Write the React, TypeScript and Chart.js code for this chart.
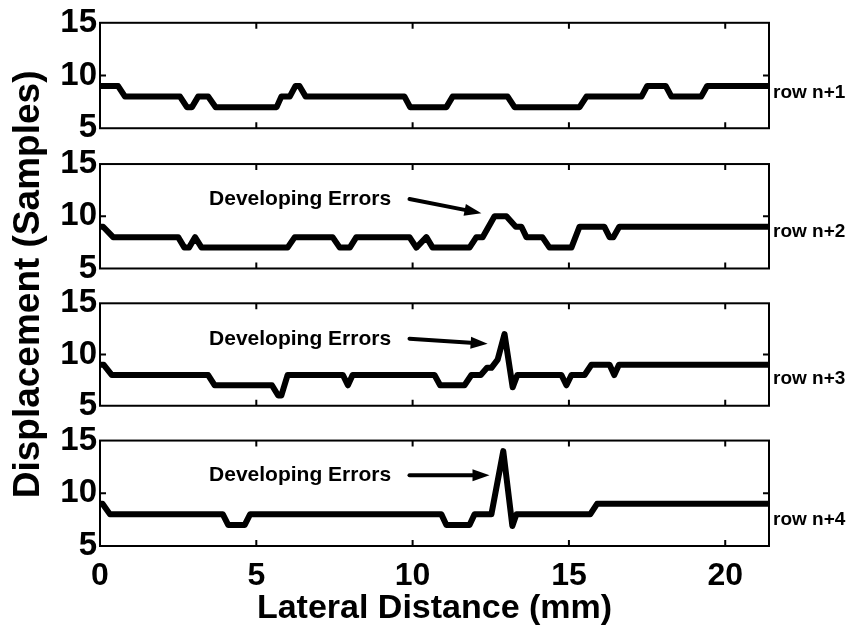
import { useEffect, useRef } from "react";
import { Chart, registerables } from "chart.js";

Chart.register(...registerables);

const FONT = "'Liberation Sans', Arial, Helvetica, sans-serif";

// ---- data ----
const X_MIN = 0;
const X_MAX = 21.4;
const Y_MIN = 5;
const Y_MAX = 15;
const X_STEP = 5;
const Y_STEP = 5;
const INNER_X_TICKS = [5, 10, 15, 20];
const INNER_Y_TICKS = [10];

const row1X = [0, 0.58, 0.8, 2.56, 2.78, 2.94, 3.14, 3.46, 3.7, 5.65, 5.8, 6.07, 6.25, 6.38, 6.58, 9.74, 9.92, 11.08, 11.28, 13.04, 13.26, 15.34, 15.56, 17.32, 17.5, 18.1, 18.28, 19.23, 19.42, 21.4];
const row1Y = [9, 9, 8, 8, 7, 7, 8, 8, 7, 7, 8, 8, 9, 9, 8, 8, 7, 7, 8, 8, 7, 7, 8, 8, 9, 9, 8, 8, 9, 9];

const row2X = [0, 0.1, 0.42, 2.5, 2.7, 2.85, 3.04, 3.25, 6.0, 6.23, 7.44, 7.67, 7.99, 8.2, 9.9, 10.12, 10.44, 10.64, 11.82, 12.04, 12.24, 12.62, 13.0, 13.3, 13.48, 13.64, 14.15, 14.38, 15.08, 15.34, 16.13, 16.3, 16.42, 16.61, 21.4];
const row2Y = [9, 9, 8, 8, 7, 7, 8, 7, 7, 8, 8, 7, 7, 8, 8, 7, 8, 7, 7, 8, 8, 10, 10, 9, 9, 8, 8, 7, 7, 9, 9, 8, 8, 9, 9];

const row3X = [0, 0.12, 0.38, 3.46, 3.67, 5.5, 5.7, 5.8, 6.0, 7.77, 7.93, 8.08, 10.7, 10.88, 11.66, 11.88, 12.18, 12.38, 12.52, 12.72, 12.94, 13.2, 13.35, 14.76, 14.92, 15.08, 15.5, 15.72, 16.3, 16.45, 16.6, 21.4];
const row3Y = [9, 9, 8, 8, 7, 7, 6, 6, 8, 8, 7, 8, 8, 7, 7, 8, 8, 8.7, 8.7, 9.5, 12, 6.8, 8, 8, 7, 8, 8, 9, 9, 8, 9, 9];

const row4X = [0, 0.08, 0.32, 3.93, 4.1, 4.63, 4.8, 10.92, 11.08, 11.82, 11.98, 12.52, 12.9, 13.19, 13.32, 15.68, 15.9, 21.4];
const row4Y = [9, 9, 8, 8, 7, 7, 8, 8, 7, 7, 8, 8, 14, 6.9, 8, 8, 9, 9];

const ROW_X = [row1X, row2X, row3X, row4X];
const ROW_Y = [row1Y, row2Y, row3Y, row4Y];
const ROW_LABELS = ["row n+1", "row n+2", "row n+3", "row n+4"];
const ROW_LABEL_VALUE = [8.4, 8.5, 7.6, 7.45];

const ANNOT_TEXT = "Developing Errors";
const ANNOT_PANEL = [1, 2, 3];
const ANNOT_TEXT_X = [6.4, 6.4, 6.4];
const ANNOT_TEXT_Y = [11.6, 11.5, 11.7];
const ARROW_X0 = [9.9, 9.9, 9.9];
const ARROW_Y0 = [11.65, 11.55, 11.7];
const ARROW_X1 = [12.2, 12.4, 12.46];
const ARROW_Y1 = [10.3, 11.05, 11.7];

const X_TITLE = "Lateral Distance (mm)";
const Y_TITLE = "Displacement (Samples)";

// ---- layout constants (pixels) ----
const PANEL_IDS = ["y1", "y2", "y3", "y4"];
const STACK_PARTS: [string, number, boolean][] = [
  ["y1", 106, true],
  ["g1", 36, false],
  ["y2", 105, true],
  ["g2", 35, false],
  ["y3", 103, true],
  ["g3", 35, false],
  ["y4", 106, true],
];

const framePlugin = {
  id: "panelFrames",
  afterDatasetsDraw(chart: any) {
    const ctx = chart.ctx;
    const { left, right } = chart.chartArea;
    const xs = chart.scales.x;
    ctx.save();
    ctx.strokeStyle = "#000";
    ctx.fillStyle = "#000";
    PANEL_IDS.forEach((id, i) => {
      const ys = chart.scales[id];
      const top = ys.getPixelForValue(Y_MAX);
      const bottom = ys.getPixelForValue(Y_MIN);
      ctx.lineWidth = 2;
      ctx.strokeRect(left, top, right - left, bottom - top);
      ctx.beginPath();
      INNER_X_TICKS.forEach((v) => {
        const px = xs.getPixelForValue(v);
        ctx.moveTo(px, top);
        ctx.lineTo(px, top + 6);
        ctx.moveTo(px, bottom);
        ctx.lineTo(px, bottom - 6);
      });
      INNER_Y_TICKS.forEach((v) => {
        const py = ys.getPixelForValue(v);
        ctx.moveTo(left, py);
        ctx.lineTo(left + 6, py);
        ctx.moveTo(right, py);
        ctx.lineTo(right - 6, py);
      });
      ctx.stroke();
      ctx.font = `bold 19px ${FONT}`;
      ctx.textAlign = "left";
      ctx.textBaseline = "middle";
      ctx.fillText(ROW_LABELS[i], right + 4, ys.getPixelForValue(ROW_LABEL_VALUE[i]));
    });
    ANNOT_PANEL.forEach((p, k) => {
      const ys = chart.scales[PANEL_IDS[p]];
      ctx.font = `bold 21px ${FONT}`;
      ctx.textAlign = "center";
      ctx.textBaseline = "middle";
      ctx.fillText(ANNOT_TEXT, xs.getPixelForValue(ANNOT_TEXT_X[k]), ys.getPixelForValue(ANNOT_TEXT_Y[k]));
      const x0 = xs.getPixelForValue(ARROW_X0[k]);
      const y0 = ys.getPixelForValue(ARROW_Y0[k]);
      const x1 = xs.getPixelForValue(ARROW_X1[k]);
      const y1 = ys.getPixelForValue(ARROW_Y1[k]);
      const ang = Math.atan2(y1 - y0, x1 - x0);
      const headLen = 17;
      const headW = 6;
      const bx = x1 - headLen * Math.cos(ang);
      const by = y1 - headLen * Math.sin(ang);
      ctx.lineWidth = 4;
      ctx.lineCap = "round";
      ctx.beginPath();
      ctx.moveTo(x0, y0);
      ctx.lineTo(bx, by);
      ctx.stroke();
      ctx.beginPath();
      ctx.moveTo(x1, y1);
      ctx.lineTo(bx + headW * Math.sin(ang), by - headW * Math.cos(ang));
      ctx.lineTo(bx - headW * Math.sin(ang), by + headW * Math.cos(ang));
      ctx.closePath();
      ctx.fill();
    });
    ctx.restore();
  },
};

export default function App() {
  const ref = useRef<HTMLCanvasElement | null>(null);

  useEffect(() => {
    if (!ref.current) return;
    const scales: any = {
      x: {
        type: "linear",
        position: "bottom",
        min: X_MIN,
        max: X_MAX,
        ticks: {
          stepSize: X_STEP,
          includeBounds: false,
          autoSkip: false,
          maxRotation: 0,
          padding: 11,
          color: "#000",
          font: { family: FONT, size: 32, weight: "bold" },
        },
        grid: { display: false, drawTicks: false },
        border: { display: false },
        title: {
          display: true,
          text: X_TITLE,
          color: "#000",
          font: { family: FONT, size: 34, weight: "bold", lineHeight: 1 },
          padding: { top: 0, bottom: 0 },
        },
        afterFit: (s: any) => {
          s.height = 80;
        },
      },
      yTitle: {
        type: "linear",
        position: "left",
        weight: 100,
        min: 0,
        max: 1,
        ticks: { display: false },
        grid: { display: false, drawTicks: false },
        border: { display: false },
        title: {
          display: true,
          text: Y_TITLE,
          color: "#000",
          font: { family: FONT, size: 37, weight: "bold" },
          padding: { top: 7, bottom: 0 },
        },
        afterFit: (s: any) => {
          s.width = 48;
        },
      },
    };
    STACK_PARTS.forEach(([id, h, isPanel], idx) => {
      scales[id] = {
        type: "linear",
        position: "left",
        stack: "panels",
        stackWeight: h,
        weight: 50 - idx,
        min: isPanel ? Y_MIN : 0,
        max: isPanel ? Y_MAX : 1,
        ticks: isPanel
          ? {
              stepSize: Y_STEP,
              autoSkip: false,
              padding: 3,
              color: "#000",
              font: { family: FONT, size: 33, weight: "bold" },
            }
          : { display: false },
        grid: { display: false, drawTicks: false },
        border: { display: false },
        afterFit: (s: any) => {
          s.width = 52;
        },
      };
    });

    const datasets = ROW_X.map((xs, i) => ({
      data: xs.map((x, j) => ({ x, y: ROW_Y[i][j] })),
      yAxisID: PANEL_IDS[i],
      xAxisID: "x",
      borderColor: "#000",
      borderWidth: 6,
      borderJoinStyle: "round" as const,
      borderCapStyle: "round" as const,
      pointRadius: 0,
      tension: 0,
      fill: false,
    }));

    const chart = new Chart(ref.current, {
      type: "line",
      data: { datasets },
      options: {
        animation: false,
        responsive: false,
        parsing: false as any,
        layout: { padding: { left: 0, right: 83, top: 20, bottom: 0 } },
        plugins: { legend: { display: false }, tooltip: { enabled: false } },
        scales,
      },
      plugins: [framePlugin],
    });
    return () => chart.destroy();
  }, []);

  return (
    <div style={{ position: "fixed", left: 0, top: 0, width: 852, height: 626, background: "#fff" }}>
      <canvas ref={ref} width={852} height={626} style={{ display: "block" }} />
    </div>
  );
}
